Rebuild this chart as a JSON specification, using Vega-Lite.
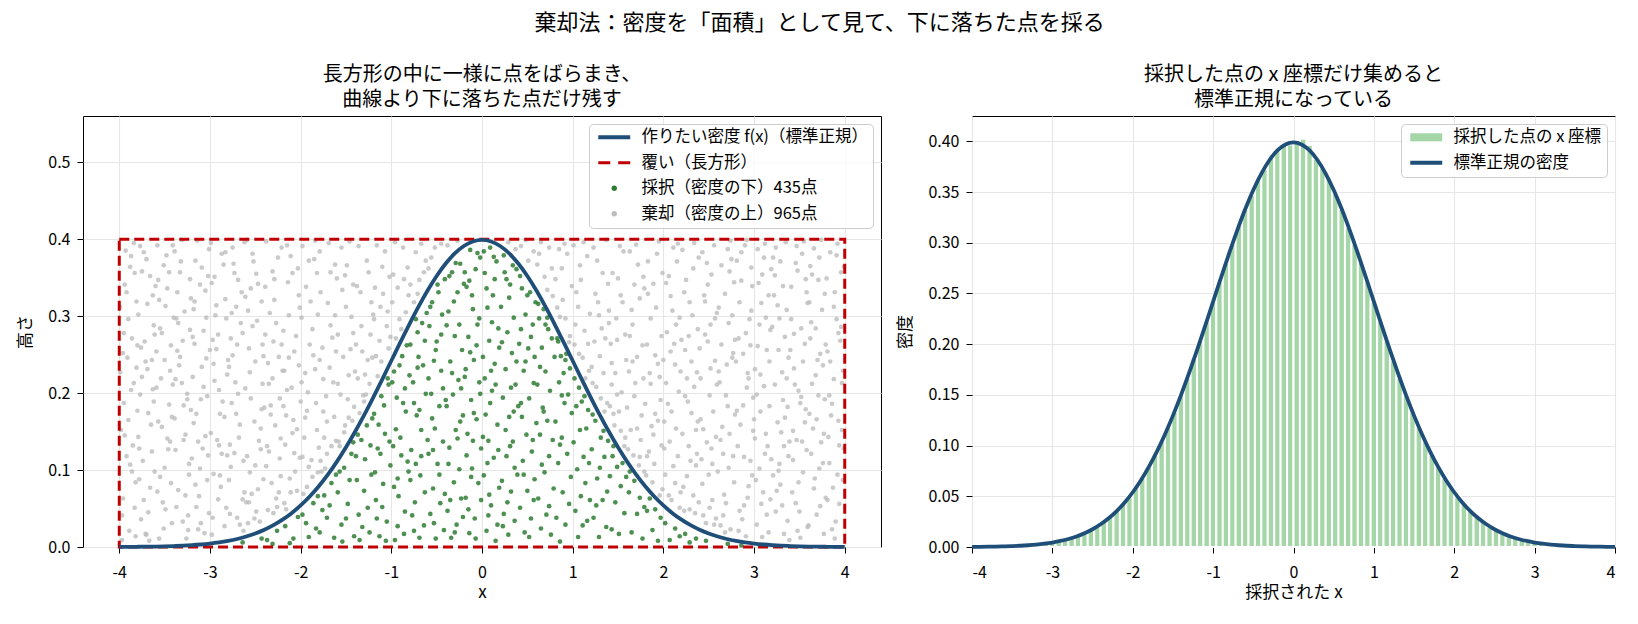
{
  "$schema": "https://vega.github.io/schema/vega-lite/v6.json",
  "background": "white",
  "padding": {"left": 16, "top": 11, "right": 10, "bottom": 10},
  "title": {
    "text": "棄却法：密度を「面積」として見て、下に落ちた点を採る",
    "fontSize": 22,
    "offset": 30,
    "anchor": "middle"
  },
  "config": {
    "font": "Noto Sans CJK JP",
    "view": {"stroke": "#000000", "strokeWidth": 1},
    "axis": {
      "labelFont": "Noto Sans CJK JP",
      "labelFontSize": 16,
      "labelColor": "#000000",
      "titleFont": "Noto Sans CJK JP",
      "titleFontSize": 17,
      "titleFontWeight": "normal",
      "titleColor": "#000000",
      "tickColor": "#000000",
      "tickSize": 6,
      "tickWidth": 1,
      "domain": false,
      "gridColor": "#e6e6e6",
      "gridWidth": 1.1
    },
    "axisX": {"labelPadding": 11, "titlePadding": 4},
    "axisY": {"labelPadding": 7, "titlePadding": 13},
    "title": {
      "font": "Noto Sans CJK JP",
      "fontWeight": "normal",
      "color": "#000000",
      "fontSize": 20,
      "lineHeight": 25,
      "offset": 6
    },
    "legend": {
      "orient": "top-right",
      "offset": 8,
      "title": null,
      "labelFont": "Noto Sans CJK JP",
      "labelFontSize": 16.5,
      "labelColor": "#000000",
      "labelLimit": 400,
      "symbolSize": 28,
      "symbolOffset": 12,
      "symbolStrokeWidth": 0,
      "symbolOpacity": 1,
      "labelOffset": 19,
      "rowPadding": 8.5,
      "padding": 5,
      "strokeColor": "#cccccc",
      "fillColor": "rgba(255,255,255,0.8)",
      "cornerRadius": 4
    }
  },
  "datasets": {
    "curve": [
      {"x":-4,"y":0.00013},{"x":-3.9,"y":0.0002},{"x":-3.8,"y":0.00029},{"x":-3.7,"y":0.00042},{"x":-3.6,"y":0.00061},{"x":-3.5,"y":0.00087},{"x":-3.4,"y":0.00123},{"x":-3.3,"y":0.00172},{"x":-3.2,"y":0.00238},{"x":-3.1,"y":0.00327},{"x":-3,"y":0.00443},{"x":-2.9,"y":0.00595},{"x":-2.8,"y":0.00792},{"x":-2.7,"y":0.01042},{"x":-2.6,"y":0.01358},{"x":-2.5,"y":0.01753},{"x":-2.4,"y":0.02239},{"x":-2.3,"y":0.02833},{"x":-2.2,"y":0.03547},{"x":-2.1,"y":0.04398},{"x":-2,"y":0.05399},{"x":-1.9,"y":0.06562},{"x":-1.8,"y":0.07895},{"x":-1.7,"y":0.09405},{"x":-1.6,"y":0.11092},{"x":-1.5,"y":0.12952},{"x":-1.4,"y":0.14973},{"x":-1.3,"y":0.17137},{"x":-1.2,"y":0.19419},{"x":-1.1,"y":0.21785},{"x":-1,"y":0.24197},{"x":-0.9,"y":0.26609},{"x":-0.8,"y":0.28969},{"x":-0.7,"y":0.31225},{"x":-0.6,"y":0.33322},{"x":-0.5,"y":0.35207},{"x":-0.4,"y":0.36827},{"x":-0.3,"y":0.38139},{"x":-0.2,"y":0.39104},{"x":-0.1,"y":0.39695},{"x":0,"y":0.39894},
      {"x":0.1,"y":0.39695},{"x":0.2,"y":0.39104},{"x":0.3,"y":0.38139},{"x":0.4,"y":0.36827},{"x":0.5,"y":0.35207},{"x":0.6,"y":0.33322},{"x":0.7,"y":0.31225},{"x":0.8,"y":0.28969},{"x":0.9,"y":0.26609},{"x":1,"y":0.24197},{"x":1.1,"y":0.21785},{"x":1.2,"y":0.19419},{"x":1.3,"y":0.17137},{"x":1.4,"y":0.14973},{"x":1.5,"y":0.12952},{"x":1.6,"y":0.11092},{"x":1.7,"y":0.09405},{"x":1.8,"y":0.07895},{"x":1.9,"y":0.06562},{"x":2,"y":0.05399},{"x":2.1,"y":0.04398},{"x":2.2,"y":0.03547},{"x":2.3,"y":0.02833},{"x":2.4,"y":0.02239},{"x":2.5,"y":0.01753},{"x":2.6,"y":0.01358},{"x":2.7,"y":0.01042},{"x":2.8,"y":0.00792},{"x":2.9,"y":0.00595},{"x":3,"y":0.00443},{"x":3.1,"y":0.00327},{"x":3.2,"y":0.00238},{"x":3.3,"y":0.00172},{"x":3.4,"y":0.00123},{"x":3.5,"y":0.00087},{"x":3.6,"y":0.00061},{"x":3.7,"y":0.00042},{"x":3.8,"y":0.00029},{"x":3.9,"y":0.0002},{"x":4,"y":0.00013}
    ],
    "box": [{"x": -4, "x2": 4, "y": 0, "y2": 0.4}],
    "hist": [
      {"x":-3.6,"x2":-3.52,"y":0.0007},{"x":-3.52,"x2":-3.44,"y":0.0009},{"x":-3.44,"x2":-3.36,"y":0.0012},{"x":-3.36,"x2":-3.28,"y":0.0016},{"x":-3.28,"x2":-3.2,"y":0.0021},{"x":-3.2,"x2":-3.12,"y":0.0027},{"x":-3.12,"x2":-3.04,"y":0.0035},{"x":-3.04,"x2":-2.96,"y":0.0044},{"x":-2.96,"x2":-2.88,"y":0.0056},{"x":-2.88,"x2":-2.8,"y":0.0071},{"x":-2.8,"x2":-2.72,"y":0.0089},{"x":-2.72,"x2":-2.64,"y":0.011},{"x":-2.64,"x2":-2.56,"y":0.0136},{"x":-2.56,"x2":-2.48,"y":0.0167},{"x":-2.48,"x2":-2.4,"y":0.0203},{"x":-2.4,"x2":-2.32,"y":0.0246},{"x":-2.32,"x2":-2.24,"y":0.0297},{"x":-2.24,"x2":-2.16,"y":0.0355},{"x":-2.16,"x2":-2.08,"y":0.0422},{"x":-2.08,"x2":-2,"y":0.0498},{"x":-2,"x2":-1.92,"y":0.0584},{"x":-1.92,"x2":-1.84,"y":0.0682},{"x":-1.84,"x2":-1.76,"y":0.079},{"x":-1.76,"x2":-1.68,"y":0.0909},{"x":-1.68,"x2":-1.6,"y":0.104},{"x":-1.6,"x2":-1.52,"y":0.1182},{"x":-1.52,"x2":-1.44,"y":0.1334},{"x":-1.44,"x2":-1.36,"y":0.1497},{"x":-1.36,"x2":-1.28,"y":0.1669},{"x":-1.28,"x2":-1.2,"y":0.186},{"x":-1.2,"x2":-1.12,"y":0.2036},{"x":-1.12,"x2":-1.04,"y":0.2227},{"x":-1.04,"x2":-0.96,"y":0.242},{"x":-0.96,"x2":-0.88,"y":0.2613},{"x":-0.88,"x2":-0.8,"y":0.2803},{"x":-0.8,"x2":-0.72,"y":0.2989},{"x":-0.72,"x2":-0.64,"y":0.3166},{"x":-0.64,"x2":-0.56,"y":0.3332},{"x":-0.56,"x2":-0.48,"y":0.347},{"x":-0.48,"x2":-0.4,"y":0.3621},{"x":-0.4,"x2":-0.32,"y":0.3725},{"x":-0.32,"x2":-0.24,"y":0.3836},{"x":-0.24,"x2":-0.16,"y":0.3925},{"x":-0.16,"x2":-0.08,"y":0.3961},{"x":-0.08,"x2":0,"y":0.397},
      {"x":0,"x2":0.08,"y":0.3986},{"x":0.08,"x2":0.16,"y":0.4025},{"x":0.16,"x2":0.24,"y":0.3965},{"x":0.24,"x2":0.32,"y":0.3825},{"x":0.32,"x2":0.4,"y":0.3739},{"x":0.4,"x2":0.48,"y":0.3635},{"x":0.48,"x2":0.56,"y":0.3485},{"x":0.56,"x2":0.64,"y":0.3332},{"x":0.64,"x2":0.72,"y":0.315},{"x":0.72,"x2":0.8,"y":0.2989},{"x":0.8,"x2":0.88,"y":0.2803},{"x":0.88,"x2":0.96,"y":0.2613},{"x":0.96,"x2":1.04,"y":0.242},{"x":1.04,"x2":1.12,"y":0.2227},{"x":1.12,"x2":1.2,"y":0.2036},{"x":1.2,"x2":1.28,"y":0.1838},{"x":1.28,"x2":1.36,"y":0.1669},{"x":1.36,"x2":1.44,"y":0.1497},{"x":1.44,"x2":1.52,"y":0.1334},{"x":1.52,"x2":1.6,"y":0.1182},{"x":1.6,"x2":1.68,"y":0.104},{"x":1.68,"x2":1.76,"y":0.0909},{"x":1.76,"x2":1.84,"y":0.079},{"x":1.84,"x2":1.92,"y":0.0682},{"x":1.92,"x2":2,"y":0.0584},{"x":2,"x2":2.08,"y":0.0498},{"x":2.08,"x2":2.16,"y":0.0422},{"x":2.16,"x2":2.24,"y":0.0355},{"x":2.24,"x2":2.32,"y":0.0297},{"x":2.32,"x2":2.4,"y":0.0246},{"x":2.4,"x2":2.48,"y":0.0203},{"x":2.48,"x2":2.56,"y":0.0167},{"x":2.56,"x2":2.64,"y":0.0136},{"x":2.64,"x2":2.72,"y":0.011},{"x":2.72,"x2":2.8,"y":0.0089},{"x":2.8,"x2":2.88,"y":0.0071},{"x":2.88,"x2":2.96,"y":0.0056},{"x":2.96,"x2":3.04,"y":0.0044},{"x":3.04,"x2":3.12,"y":0.0035},{"x":3.12,"x2":3.2,"y":0.0027},{"x":3.2,"x2":3.28,"y":0.0021},{"x":3.28,"x2":3.36,"y":0.0016},{"x":3.36,"x2":3.44,"y":0.0012},{"x":3.44,"x2":3.52,"y":0.0009},{"x":3.52,"x2":3.6,"y":0.0007}
    ],
    "rej": [
      {"x":-3.99,"y":0.312},{"x":-3.83,"y":0.051},{"x":-3.95,"y":0.187},{"x":-3.88,"y":0.364},{"x":-3.81,"y":0.233},{"x":-3.97,"y":0.009},{"x":-3.86,"y":0.271},{"x":-3.92,"y":0.118},{"x":-3.84,"y":0.395},{"x":-3.98,"y":0.152},{"x":-3.9,"y":0.296},{"x":-3.82,"y":0.084},{"x":-3.94,"y":0.341},{"x":-3.87,"y":0.204},{"x":-3.96,"y":0.063},{"x":-3.8,"y":0.177},{"x":-3.91,"y":0.246},{"x":-3.85,"y":0.132},{"x":-3.93,"y":0.385},{"x":-3.89,"y":0.021},{"x":-3.81,"y":0.319},{"x":-3.99,"y":0.227},{"x":-3.86,"y":0.098},{"x":-3.95,"y":0.278},{"x":-3.83,"y":0.356},{"x":-3.9,"y":0.165},{"x":-3.97,"y":0.041},{"x":-3.84,"y":0.213},{"x":-3.92,"y":0.331},{"x":-3.88,"y":0.107},{"x":-3.8,"y":0.262},{"x":-3.94,"y":0.145},{"x":-3.87,"y":0.378},{"x":-3.96,"y":0.252},{"x":-3.82,"y":0.014},
      {"x":-3.79,"y":0.143},{"x":-3.62,"y":0.288},{"x":-3.71,"y":0.017},{"x":-3.66,"y":0.352},{"x":-3.75,"y":0.221},{"x":-3.61,"y":0.098},{"x":-3.68,"y":0.174},{"x":-3.77,"y":0.391},{"x":-3.64,"y":0.243},{"x":-3.73,"y":0.061},{"x":-3.69,"y":0.316},{"x":-3.78,"y":0.128},{"x":-3.63,"y":0.205},{"x":-3.7,"y":0.374},{"x":-3.76,"y":0.036},{"x":-3.65,"y":0.159},{"x":-3.72,"y":0.267},{"x":-3.6,"y":0.339},{"x":-3.74,"y":0.112},{"x":-3.67,"y":0.008},{"x":-3.79,"y":0.302},{"x":-3.62,"y":0.189},{"x":-3.71,"y":0.241},{"x":-3.66,"y":0.077},{"x":-3.75,"y":0.358},{"x":-3.61,"y":0.276},{"x":-3.68,"y":0.045},{"x":-3.77,"y":0.198},{"x":-3.64,"y":0.124},{"x":-3.73,"y":0.383},{"x":-3.69,"y":0.231},{"x":-3.78,"y":0.088},{"x":-3.63,"y":0.327},{"x":-3.7,"y":0.016},{"x":-3.76,"y":0.259},
      {"x":-3.59,"y":0.207},{"x":-3.42,"y":0.031},{"x":-3.51,"y":0.366},{"x":-3.47,"y":0.141},{"x":-3.55,"y":0.284},{"x":-3.41,"y":0.392},{"x":-3.58,"y":0.072},{"x":-3.44,"y":0.229},{"x":-3.53,"y":0.156},{"x":-3.49,"y":0.313},{"x":-3.56,"y":0.011},{"x":-3.43,"y":0.262},{"x":-3.5,"y":0.103},{"x":-3.57,"y":0.347},{"x":-3.45,"y":0.185},{"x":-3.52,"y":0.058},{"x":-3.4,"y":0.298},{"x":-3.54,"y":0.219},{"x":-3.48,"y":0.379},{"x":-3.46,"y":0.127},{"x":-3.59,"y":0.254},{"x":-3.42,"y":0.169},{"x":-3.51,"y":0.024},{"x":-3.47,"y":0.336},{"x":-3.55,"y":0.091},{"x":-3.41,"y":0.211},{"x":-3.58,"y":0.392},{"x":-3.44,"y":0.137},{"x":-3.53,"y":0.278},{"x":-3.49,"y":0.049},{"x":-3.56,"y":0.321},{"x":-3.43,"y":0.083},{"x":-3.5,"y":0.243},{"x":-3.57,"y":0.163},{"x":-3.45,"y":0.357},
      {"x":-3.38,"y":0.126},{"x":-3.22,"y":0.348},{"x":-3.31,"y":0.213},{"x":-3.27,"y":0.067},{"x":-3.35,"y":0.291},{"x":-3.21,"y":0.178},{"x":-3.39,"y":0.384},{"x":-3.24,"y":0.022},{"x":-3.33,"y":0.247},{"x":-3.29,"y":0.139},{"x":-3.36,"y":0.331},{"x":-3.23,"y":0.094},{"x":-3.3,"y":0.268},{"x":-3.37,"y":0.052},{"x":-3.25,"y":0.199},{"x":-3.32,"y":0.371},{"x":-3.2,"y":0.115},{"x":-3.34,"y":0.236},{"x":-3.28,"y":0.306},{"x":-3.26,"y":0.011},{"x":-3.39,"y":0.167},{"x":-3.22,"y":0.282},{"x":-3.31,"y":0.399},{"x":-3.27,"y":0.146},{"x":-3.35,"y":0.074},{"x":-3.21,"y":0.323},{"x":-3.38,"y":0.218},{"x":-3.24,"y":0.041},{"x":-3.33,"y":0.357},{"x":-3.29,"y":0.184},{"x":-3.36,"y":0.255},{"x":-3.23,"y":0.108},{"x":-3.3,"y":0.033},{"x":-3.37,"y":0.297},{"x":-3.25,"y":0.192},
      {"x":-3.19,"y":0.273},{"x":-3.02,"y":0.119},{"x":-3.11,"y":0.341},{"x":-3.07,"y":0.208},{"x":-3.15,"y":0.052},{"x":-3.01,"y":0.387},{"x":-3.18,"y":0.161},{"x":-3.04,"y":0.298},{"x":-3.13,"y":0.023},{"x":-3.09,"y":0.234},{"x":-3.16,"y":0.372},{"x":-3.03,"y":0.087},{"x":-3.1,"y":0.192},{"x":-3.17,"y":0.319},{"x":-3.05,"y":0.144},{"x":-3.12,"y":0.066},{"x":-3,"y":0.256},{"x":-3.14,"y":0.398},{"x":-3.08,"y":0.128},{"x":-3.06,"y":0.018},{"x":-3.19,"y":0.221},{"x":-3.02,"y":0.352},{"x":-3.11,"y":0.102},{"x":-3.07,"y":0.281},{"x":-3.15,"y":0.173},{"x":-3.01,"y":0.044},{"x":-3.18,"y":0.309},{"x":-3.04,"y":0.245},{"x":-3.13,"y":0.137},{"x":-3.09,"y":0.363},{"x":-3.16,"y":0.081},{"x":-3.03,"y":0.196},{"x":-3.1,"y":0.031},{"x":-3.17,"y":0.264},{"x":-3.05,"y":0.333},
      {"x":-2.99,"y":0.148},{"x":-2.82,"y":0.297},{"x":-2.91,"y":0.062},{"x":-2.87,"y":0.381},{"x":-2.95,"y":0.216},{"x":-2.81,"y":0.119},{"x":-2.98,"y":0.343},{"x":-2.84,"y":0.027},{"x":-2.93,"y":0.257},{"x":-2.89,"y":0.173},{"x":-2.96,"y":0.095},{"x":-2.83,"y":0.322},{"x":-2.9,"y":0.204},{"x":-2.97,"y":0.038},{"x":-2.85,"y":0.367},{"x":-2.92,"y":0.139},{"x":-2.8,"y":0.243},{"x":-2.94,"y":0.301},{"x":-2.88,"y":0.078},{"x":-2.86,"y":0.189},{"x":-2.99,"y":0.395},{"x":-2.82,"y":0.051},{"x":-2.91,"y":0.276},{"x":-2.87,"y":0.121},{"x":-2.95,"y":0.351},{"x":-2.81,"y":0.224},{"x":-2.98,"y":0.016},{"x":-2.84,"y":0.169},{"x":-2.93,"y":0.314},{"x":-2.89,"y":0.093},{"x":-2.96,"y":0.238},{"x":-2.83,"y":0.383},{"x":-2.9,"y":0.132},{"x":-2.97,"y":0.269},
      {"x":-2.79,"y":0.234},{"x":-2.62,"y":0.071},{"x":-2.71,"y":0.312},{"x":-2.67,"y":0.159},{"x":-2.75,"y":0.389},{"x":-2.61,"y":0.206},{"x":-2.78,"y":0.043},{"x":-2.64,"y":0.278},{"x":-2.73,"y":0.122},{"x":-2.69,"y":0.347},{"x":-2.76,"y":0.187},{"x":-2.63,"y":0.021},{"x":-2.7,"y":0.263},{"x":-2.77,"y":0.104},{"x":-2.65,"y":0.331},{"x":-2.72,"y":0.214},{"x":-2.6,"y":0.058},{"x":-2.74,"y":0.368},{"x":-2.68,"y":0.142},{"x":-2.66,"y":0.291},{"x":-2.79,"y":0.087},{"x":-2.62,"y":0.396},{"x":-2.71,"y":0.173},{"x":-2.67,"y":0.029},{"x":-2.75,"y":0.249},{"x":-2.61,"y":0.325},{"x":-2.78,"y":0.133},{"x":-2.64,"y":0.062},{"x":-2.73,"y":0.356},{"x":-2.69,"y":0.199},{"x":-2.76,"y":0.304},{"x":-2.63,"y":0.112},{"x":-2.7,"y":0.038},{"x":-2.77,"y":0.271},
      {"x":-2.59,"y":0.118},{"x":-2.42,"y":0.263},{"x":-2.51,"y":0.037},{"x":-2.47,"y":0.342},{"x":-2.55,"y":0.193},{"x":-2.41,"y":0.088},{"x":-2.58,"y":0.307},{"x":-2.44,"y":0.154},{"x":-2.53,"y":0.381},{"x":-2.49,"y":0.046},{"x":-2.56,"y":0.227},{"x":-2.43,"y":0.319},{"x":-2.5,"y":0.106},{"x":-2.57,"y":0.258},{"x":-2.45,"y":0.033},{"x":-2.52,"y":0.371},{"x":-2.4,"y":0.181},{"x":-2.54,"y":0.069},{"x":-2.48,"y":0.294},{"x":-2.46,"y":0.138},{"x":-2.59,"y":0.399},{"x":-2.42,"y":0.212},{"x":-2.51,"y":0.163},{"x":-2.47,"y":0.075},{"x":-2.55,"y":0.336},{"x":-2.41,"y":0.248},{"x":-2.58,"y":0.031},{"x":-2.44,"y":0.127},{"x":-2.53,"y":0.287},{"x":-2.49,"y":0.355},{"x":-2.56,"y":0.097},{"x":-2.43,"y":0.179},{"x":-2.5,"y":0.241},{"x":-2.57,"y":0.058},
      {"x":-2.39,"y":0.276},{"x":-2.22,"y":0.141},{"x":-2.31,"y":0.358},{"x":-2.27,"y":0.063},{"x":-2.35,"y":0.212},{"x":-2.21,"y":0.389},{"x":-2.38,"y":0.105},{"x":-2.24,"y":0.247},{"x":-2.33,"y":0.172},{"x":-2.29,"y":0.321},{"x":-2.36,"y":0.048},{"x":-2.23,"y":0.193},{"x":-2.3,"y":0.267},{"x":-2.37,"y":0.131},{"x":-2.25,"y":0.376},{"x":-2.32,"y":0.083},{"x":-2.2,"y":0.229},{"x":-2.34,"y":0.304},{"x":-2.28,"y":0.158},{"x":-2.26,"y":0.052},{"x":-2.39,"y":0.338},{"x":-2.22,"y":0.092},{"x":-2.31,"y":0.219},{"x":-2.27,"y":0.291},{"x":-2.35,"y":0.124},{"x":-2.21,"y":0.263},{"x":-2.38,"y":0.397},{"x":-2.24,"y":0.071},{"x":-2.33,"y":0.184},{"x":-2.29,"y":0.348},{"x":-2.36,"y":0.239},{"x":-2.23,"y":0.115},{"x":-2.3,"y":0.044},
      {"x":-2.19,"y":0.183},{"x":-2.02,"y":0.327},{"x":-2.11,"y":0.071},{"x":-2.07,"y":0.254},{"x":-2.15,"y":0.392},{"x":-2.01,"y":0.116},{"x":-2.18,"y":0.229},{"x":-2.04,"y":0.073},{"x":-2.13,"y":0.301},{"x":-2.09,"y":0.148},{"x":-2.16,"y":0.049},{"x":-2.03,"y":0.362},{"x":-2.1,"y":0.207},{"x":-2.17,"y":0.133},{"x":-2.05,"y":0.274},{"x":-2.12,"y":0.089},{"x":-2,"y":0.189},{"x":-2.14,"y":0.344},{"x":-2.08,"y":0.165},{"x":-2.06,"y":0.098},{"x":-2.19,"y":0.281},{"x":-2.02,"y":0.236},{"x":-2.11,"y":0.378},{"x":-2.07,"y":0.122},{"x":-2.15,"y":0.204},{"x":-2.01,"y":0.311},{"x":-2.18,"y":0.057},{"x":-2.04,"y":0.153},{"x":-2.13,"y":0.246},{"x":-2.09,"y":0.356},{"x":-2.16,"y":0.171},
      {"x":-1.99,"y":0.214},{"x":-1.82,"y":0.356},{"x":-1.91,"y":0.104},{"x":-1.87,"y":0.283},{"x":-1.95,"y":0.168},{"x":-1.81,"y":0.097},{"x":-1.98,"y":0.391},{"x":-1.84,"y":0.231},{"x":-1.93,"y":0.078},{"x":-1.89,"y":0.319},{"x":-1.96,"y":0.142},{"x":-1.83,"y":0.187},{"x":-1.9,"y":0.263},{"x":-1.97,"y":0.069},{"x":-1.85,"y":0.374},{"x":-1.92,"y":0.201},{"x":-1.8,"y":0.129},{"x":-1.94,"y":0.338},{"x":-1.88,"y":0.113},{"x":-1.86,"y":0.249},{"x":-1.99,"y":0.298},{"x":-1.82,"y":0.152},{"x":-1.91,"y":0.372},{"x":-1.87,"y":0.091},{"x":-1.95,"y":0.226},{"x":-1.81,"y":0.302},{"x":-1.98,"y":0.117},{"x":-1.84,"y":0.398},{"x":-1.93,"y":0.177},
      {"x":-1.79,"y":0.243},{"x":-1.62,"y":0.367},{"x":-1.71,"y":0.121},{"x":-1.67,"y":0.288},{"x":-1.75,"y":0.176},{"x":-1.61,"y":0.138},{"x":-1.78,"y":0.331},{"x":-1.64,"y":0.214},{"x":-1.73,"y":0.102},{"x":-1.69,"y":0.395},{"x":-1.76,"y":0.259},{"x":-1.63,"y":0.169},{"x":-1.7,"y":0.317},{"x":-1.77,"y":0.098},{"x":-1.65,"y":0.272},{"x":-1.72,"y":0.196},{"x":-1.6,"y":0.349},{"x":-1.74,"y":0.142},{"x":-1.68,"y":0.233},{"x":-1.66,"y":0.131},{"x":-1.79,"y":0.384},{"x":-1.62,"y":0.301},{"x":-1.71,"y":0.163},{"x":-1.67,"y":0.357},{"x":-1.75,"y":0.218},{"x":-1.61,"y":0.254},{"x":-1.78,"y":0.112},
      {"x":-1.59,"y":0.276},{"x":-1.42,"y":0.341},{"x":-1.51,"y":0.158},{"x":-1.47,"y":0.223},{"x":-1.55,"y":0.389},{"x":-1.41,"y":0.182},{"x":-1.58,"y":0.137},{"x":-1.44,"y":0.299},{"x":-1.53,"y":0.247},{"x":-1.49,"y":0.366},{"x":-1.56,"y":0.198},{"x":-1.43,"y":0.164},{"x":-1.5,"y":0.312},{"x":-1.57,"y":0.131},{"x":-1.45,"y":0.257},{"x":-1.52,"y":0.149},{"x":-1.4,"y":0.228},{"x":-1.54,"y":0.334},{"x":-1.48,"y":0.192},{"x":-1.46,"y":0.397},{"x":-1.59,"y":0.212},{"x":-1.42,"y":0.278},{"x":-1.51,"y":0.353},{"x":-1.47,"y":0.168},
      {"x":-1.39,"y":0.263},{"x":-1.22,"y":0.318},{"x":-1.31,"y":0.197},{"x":-1.27,"y":0.372},{"x":-1.35,"y":0.174},{"x":-1.21,"y":0.246},{"x":-1.38,"y":0.339},{"x":-1.24,"y":0.212},{"x":-1.33,"y":0.287},{"x":-1.29,"y":0.224},{"x":-1.36,"y":0.391},{"x":-1.23,"y":0.276},{"x":-1.3,"y":0.189},{"x":-1.37,"y":0.219},{"x":-1.25,"y":0.357},{"x":-1.32,"y":0.254},{"x":-1.2,"y":0.302},{"x":-1.34,"y":0.331},{"x":-1.28,"y":0.198},{"x":-1.26,"y":0.243},
      {"x":-1.19,"y":0.296},{"x":-1.02,"y":0.351},{"x":-1.11,"y":0.241},{"x":-1.07,"y":0.384},{"x":-1.15,"y":0.222},{"x":-1.01,"y":0.273},{"x":-1.18,"y":0.337},{"x":-1.04,"y":0.306},{"x":-1.13,"y":0.268},{"x":-1.09,"y":0.329},{"x":-1.16,"y":0.392},{"x":-1.03,"y":0.258},{"x":-1.1,"y":0.364},{"x":-1.17,"y":0.248},{"x":-1.05,"y":0.287},{"x":-1.12,"y":0.312},
      {"x":-0.99,"y":0.318},{"x":-0.82,"y":0.363},{"x":-0.91,"y":0.296},{"x":-0.87,"y":0.389},{"x":-0.95,"y":0.271},{"x":-0.81,"y":0.327},{"x":-0.98,"y":0.354},{"x":-0.84,"y":0.305},{"x":-0.93,"y":0.337},{"x":-0.89,"y":0.283},{"x":-0.96,"y":0.396},{"x":-0.86,"y":0.348},
      {"x":-0.79,"y":0.341},{"x":-0.62,"y":0.372},{"x":-0.71,"y":0.329},{"x":-0.67,"y":0.394},{"x":-0.75,"y":0.318},{"x":-0.64,"y":0.357},{"x":-0.73,"y":0.383},{"x":-0.69,"y":0.347},
      {"x":-0.59,"y":0.362},{"x":-0.52,"y":0.389},{"x":-0.45,"y":0.394},{"x":-0.56,"y":0.376},
      {"x":-0.38,"y":0.392},{"x":-0.27,"y":0.398},
      {"x":0.29,"y":0.396},{"x":0.37,"y":0.387},
      {"x":0.43,"y":0.391},{"x":0.51,"y":0.372},{"x":0.57,"y":0.384},{"x":0.48,"y":0.399},
      {"x":0.61,"y":0.367},{"x":0.78,"y":0.326},{"x":0.69,"y":0.351},{"x":0.74,"y":0.389},{"x":0.65,"y":0.396},{"x":0.72,"y":0.334},{"x":0.77,"y":0.362},{"x":0.63,"y":0.381},
      {"x":0.83,"y":0.311},{"x":0.97,"y":0.274},{"x":0.88,"y":0.362},{"x":0.92,"y":0.297},{"x":0.85,"y":0.387},{"x":0.99,"y":0.339},{"x":0.81,"y":0.348},{"x":0.94,"y":0.381},{"x":0.89,"y":0.321},{"x":0.96,"y":0.266},{"x":0.86,"y":0.299},{"x":0.91,"y":0.394},
      {"x":1.02,"y":0.263},{"x":1.18,"y":0.229},{"x":1.09,"y":0.347},{"x":1.13,"y":0.281},{"x":1.06,"y":0.312},{"x":1.16,"y":0.378},{"x":1.01,"y":0.392},{"x":1.11,"y":0.246},{"x":1.19,"y":0.303},{"x":1.04,"y":0.331},{"x":1.14,"y":0.219},{"x":1.08,"y":0.366},{"x":1.17,"y":0.264},{"x":1.03,"y":0.289},{"x":1.12,"y":0.396},{"x":1.07,"y":0.251},
      {"x":1.21,"y":0.234},{"x":1.38,"y":0.187},{"x":1.29,"y":0.301},{"x":1.33,"y":0.356},{"x":1.26,"y":0.208},{"x":1.36,"y":0.271},{"x":1.23,"y":0.389},{"x":1.31,"y":0.193},{"x":1.39,"y":0.342},{"x":1.24,"y":0.267},{"x":1.34,"y":0.226},{"x":1.28,"y":0.318},{"x":1.37,"y":0.399},{"x":1.22,"y":0.213},{"x":1.32,"y":0.284},{"x":1.27,"y":0.372},{"x":1.35,"y":0.176},{"x":1.25,"y":0.329},{"x":1.3,"y":0.248},{"x":1.4,"y":0.291},
      {"x":1.41,"y":0.183},{"x":1.58,"y":0.142},{"x":1.49,"y":0.269},{"x":1.53,"y":0.327},{"x":1.46,"y":0.158},{"x":1.56,"y":0.384},{"x":1.43,"y":0.211},{"x":1.51,"y":0.176},{"x":1.59,"y":0.243},{"x":1.44,"y":0.356},{"x":1.54,"y":0.201},{"x":1.48,"y":0.297},{"x":1.57,"y":0.131},{"x":1.42,"y":0.264},{"x":1.52,"y":0.391},{"x":1.47,"y":0.226},{"x":1.55,"y":0.318},{"x":1.45,"y":0.173},{"x":1.5,"y":0.349},{"x":1.4,"y":0.307},{"x":1.58,"y":0.276},{"x":1.43,"y":0.239},{"x":1.53,"y":0.151},{"x":1.49,"y":0.198},
      {"x":1.61,"y":0.127},{"x":1.78,"y":0.351},{"x":1.69,"y":0.213},{"x":1.73,"y":0.106},{"x":1.66,"y":0.289},{"x":1.76,"y":0.171},{"x":1.63,"y":0.384},{"x":1.71,"y":0.247},{"x":1.79,"y":0.098},{"x":1.64,"y":0.152},{"x":1.74,"y":0.323},{"x":1.68,"y":0.196},{"x":1.77,"y":0.262},{"x":1.62,"y":0.228},{"x":1.72,"y":0.367},{"x":1.67,"y":0.119},{"x":1.75,"y":0.139},{"x":1.65,"y":0.308},{"x":1.7,"y":0.393},{"x":1.6,"y":0.181},{"x":1.78,"y":0.219},{"x":1.63,"y":0.274},{"x":1.71,"y":0.154},{"x":1.79,"y":0.336},{"x":1.66,"y":0.241},{"x":1.74,"y":0.117},{"x":1.68,"y":0.341},
      {"x":1.81,"y":0.093},{"x":1.98,"y":0.274},{"x":1.89,"y":0.146},{"x":1.93,"y":0.381},{"x":1.86,"y":0.212},{"x":1.96,"y":0.067},{"x":1.83,"y":0.329},{"x":1.91,"y":0.173},{"x":1.99,"y":0.356},{"x":1.84,"y":0.124},{"x":1.94,"y":0.238},{"x":1.88,"y":0.084},{"x":1.97,"y":0.191},{"x":1.82,"y":0.263},{"x":1.92,"y":0.311},{"x":1.87,"y":0.157},{"x":1.95,"y":0.397},{"x":1.85,"y":0.226},{"x":1.9,"y":0.108},{"x":1.8,"y":0.186},{"x":1.98,"y":0.132},{"x":1.83,"y":0.371},{"x":1.91,"y":0.249},{"x":1.99,"y":0.075},{"x":1.86,"y":0.297},{"x":1.94,"y":0.164},{"x":1.89,"y":0.342},{"x":1.96,"y":0.221},{"x":1.82,"y":0.118},
      {"x":2.01,"y":0.163},{"x":2.18,"y":0.298},{"x":2.09,"y":0.061},{"x":2.13,"y":0.237},{"x":2.06,"y":0.352},{"x":2.16,"y":0.118},{"x":2.03,"y":0.213},{"x":2.11,"y":0.389},{"x":2.19,"y":0.071},{"x":2.04,"y":0.279},{"x":2.14,"y":0.154},{"x":2.08,"y":0.326},{"x":2.17,"y":0.202},{"x":2.02,"y":0.094},{"x":2.12,"y":0.264},{"x":2.07,"y":0.137},{"x":2.15,"y":0.371},{"x":2.05,"y":0.186},{"x":2.1,"y":0.307},{"x":2,"y":0.243},{"x":2.18,"y":0.051},{"x":2.03,"y":0.343},{"x":2.11,"y":0.105},{"x":2.19,"y":0.228},{"x":2.06,"y":0.067},{"x":2.14,"y":0.289},{"x":2.09,"y":0.176},{"x":2.16,"y":0.394},{"x":2.01,"y":0.128},{"x":2.13,"y":0.083},{"x":2.08,"y":0.254},
      {"x":2.21,"y":0.147},{"x":2.38,"y":0.283},{"x":2.29,"y":0.049},{"x":2.33,"y":0.362},{"x":2.26,"y":0.219},{"x":2.36,"y":0.106},{"x":2.23,"y":0.331},{"x":2.31,"y":0.174},{"x":2.39,"y":0.058},{"x":2.24,"y":0.256},{"x":2.34,"y":0.395},{"x":2.28,"y":0.131},{"x":2.37,"y":0.227},{"x":2.22,"y":0.078},{"x":2.32,"y":0.301},{"x":2.27,"y":0.189},{"x":2.35,"y":0.044},{"x":2.25,"y":0.347},{"x":2.3,"y":0.112},{"x":2.2,"y":0.269},{"x":2.38,"y":0.163},{"x":2.23,"y":0.047},{"x":2.31,"y":0.241},{"x":2.39,"y":0.376},{"x":2.26,"y":0.092},{"x":2.34,"y":0.208},{"x":2.29,"y":0.318},{"x":2.36,"y":0.152},{"x":2.21,"y":0.386},{"x":2.33,"y":0.067},{"x":2.28,"y":0.274},{"x":2.37,"y":0.121},{"x":2.24,"y":0.196},
      {"x":2.41,"y":0.219},{"x":2.58,"y":0.037},{"x":2.49,"y":0.341},{"x":2.53,"y":0.128},{"x":2.46,"y":0.276},{"x":2.56,"y":0.392},{"x":2.43,"y":0.082},{"x":2.51,"y":0.197},{"x":2.59,"y":0.304},{"x":2.44,"y":0.153},{"x":2.54,"y":0.061},{"x":2.48,"y":0.369},{"x":2.57,"y":0.242},{"x":2.42,"y":0.114},{"x":2.52,"y":0.289},{"x":2.47,"y":0.031},{"x":2.55,"y":0.176},{"x":2.45,"y":0.327},{"x":2.5,"y":0.094},{"x":2.4,"y":0.258},{"x":2.58,"y":0.143},{"x":2.43,"y":0.383},{"x":2.51,"y":0.051},{"x":2.59,"y":0.211},{"x":2.46,"y":0.319},{"x":2.54,"y":0.108},{"x":2.49,"y":0.267},{"x":2.56,"y":0.029},{"x":2.41,"y":0.166},{"x":2.53,"y":0.354},{"x":2.48,"y":0.136},{"x":2.57,"y":0.297},{"x":2.44,"y":0.041},{"x":2.52,"y":0.232},
      {"x":2.61,"y":0.311},{"x":2.78,"y":0.084},{"x":2.69,"y":0.197},{"x":2.73,"y":0.358},{"x":2.66,"y":0.041},{"x":2.76,"y":0.246},{"x":2.63,"y":0.139},{"x":2.71,"y":0.387},{"x":2.79,"y":0.172},{"x":2.64,"y":0.263},{"x":2.74,"y":0.023},{"x":2.68,"y":0.329},{"x":2.77,"y":0.118},{"x":2.62,"y":0.214},{"x":2.72,"y":0.291},{"x":2.67,"y":0.068},{"x":2.75,"y":0.374},{"x":2.65,"y":0.156},{"x":2.7,"y":0.237},{"x":2.6,"y":0.098},{"x":2.78,"y":0.344},{"x":2.63,"y":0.028},{"x":2.71,"y":0.183},{"x":2.79,"y":0.269},{"x":2.66,"y":0.121},{"x":2.74,"y":0.398},{"x":2.69,"y":0.057},{"x":2.76,"y":0.301},{"x":2.61,"y":0.228},{"x":2.73,"y":0.147},{"x":2.68,"y":0.019},{"x":2.77,"y":0.252},{"x":2.64,"y":0.366},{"x":2.72,"y":0.103},
      {"x":2.81,"y":0.177},{"x":2.98,"y":0.339},{"x":2.89,"y":0.054},{"x":2.93,"y":0.226},{"x":2.86,"y":0.383},{"x":2.96,"y":0.112},{"x":2.83,"y":0.271},{"x":2.91,"y":0.014},{"x":2.99,"y":0.194},{"x":2.84,"y":0.318},{"x":2.94,"y":0.079},{"x":2.88,"y":0.251},{"x":2.97,"y":0.363},{"x":2.82,"y":0.131},{"x":2.92,"y":0.207},{"x":2.87,"y":0.036},{"x":2.95,"y":0.296},{"x":2.85,"y":0.159},{"x":2.9,"y":0.392},{"x":2.8,"y":0.241},{"x":2.98,"y":0.093},{"x":2.83,"y":0.021},{"x":2.91,"y":0.278},{"x":2.99,"y":0.151},{"x":2.86,"y":0.346},{"x":2.94,"y":0.219},{"x":2.89,"y":0.117},{"x":2.96,"y":0.262},{"x":2.81,"y":0.372},{"x":2.93,"y":0.064},{"x":2.88,"y":0.184},{"x":2.97,"y":0.307},{"x":2.84,"y":0.047},{"x":2.92,"y":0.399},
      {"x":3.01,"y":0.231},{"x":3.18,"y":0.062},{"x":3.09,"y":0.354},{"x":3.13,"y":0.147},{"x":3.06,"y":0.289},{"x":3.16,"y":0.019},{"x":3.03,"y":0.198},{"x":3.11,"y":0.376},{"x":3.19,"y":0.114},{"x":3.04,"y":0.261},{"x":3.14,"y":0.042},{"x":3.08,"y":0.317},{"x":3.17,"y":0.183},{"x":3.02,"y":0.087},{"x":3.12,"y":0.394},{"x":3.07,"y":0.224},{"x":3.15,"y":0.131},{"x":3.05,"y":0.343},{"x":3.1,"y":0.071},{"x":3,"y":0.166},{"x":3.18,"y":0.282},{"x":3.03,"y":0.029},{"x":3.11,"y":0.209},{"x":3.19,"y":0.361},{"x":3.06,"y":0.102},{"x":3.14,"y":0.256},{"x":3.09,"y":0.013},{"x":3.16,"y":0.327},{"x":3.01,"y":0.141},{"x":3.13,"y":0.298},{"x":3.08,"y":0.056},{"x":3.17,"y":0.241},{"x":3.04,"y":0.387},{"x":3.12,"y":0.121},{"x":3.07,"y":0.176},
      {"x":3.21,"y":0.093},{"x":3.38,"y":0.246},{"x":3.29,"y":0.371},{"x":3.33,"y":0.017},{"x":3.26,"y":0.162},{"x":3.36,"y":0.308},{"x":3.23,"y":0.211},{"x":3.31,"y":0.054},{"x":3.39,"y":0.137},{"x":3.24,"y":0.389},{"x":3.34,"y":0.273},{"x":3.28,"y":0.108},{"x":3.37,"y":0.034},{"x":3.22,"y":0.327},{"x":3.32,"y":0.191},{"x":3.27,"y":0.256},{"x":3.35,"y":0.396},{"x":3.25,"y":0.073},{"x":3.3,"y":0.149},{"x":3.2,"y":0.286},{"x":3.38,"y":0.118},{"x":3.23,"y":0.353},{"x":3.31,"y":0.227},{"x":3.39,"y":0.009},{"x":3.26,"y":0.314},{"x":3.34,"y":0.168},{"x":3.29,"y":0.081},{"x":3.36,"y":0.219},{"x":3.21,"y":0.376},{"x":3.33,"y":0.131},{"x":3.28,"y":0.297},{"x":3.37,"y":0.182},{"x":3.24,"y":0.046},{"x":3.32,"y":0.339},{"x":3.27,"y":0.099},
      {"x":3.41,"y":0.338},{"x":3.58,"y":0.126},{"x":3.49,"y":0.203},{"x":3.53,"y":0.381},{"x":3.46,"y":0.057},{"x":3.56,"y":0.264},{"x":3.43,"y":0.151},{"x":3.51,"y":0.012},{"x":3.59,"y":0.317},{"x":3.44,"y":0.232},{"x":3.54,"y":0.097},{"x":3.48,"y":0.359},{"x":3.57,"y":0.179},{"x":3.42,"y":0.071},{"x":3.52,"y":0.284},{"x":3.47,"y":0.139},{"x":3.55,"y":0.397},{"x":3.45,"y":0.211},{"x":3.5,"y":0.046},{"x":3.4,"y":0.256},{"x":3.58,"y":0.331},{"x":3.43,"y":0.113},{"x":3.51,"y":0.187},{"x":3.59,"y":0.026},{"x":3.46,"y":0.369},{"x":3.54,"y":0.241},{"x":3.49,"y":0.084},{"x":3.56,"y":0.162},{"x":3.41,"y":0.296},{"x":3.53,"y":0.137},{"x":3.48,"y":0.021},{"x":3.57,"y":0.348},{"x":3.44,"y":0.277},{"x":3.52,"y":0.195},{"x":3.47,"y":0.391},
      {"x":3.61,"y":0.173},{"x":3.78,"y":0.329},{"x":3.69,"y":0.042},{"x":3.73,"y":0.251},{"x":3.66,"y":0.388},{"x":3.76,"y":0.109},{"x":3.63,"y":0.292},{"x":3.71,"y":0.197},{"x":3.79,"y":0.064},{"x":3.64,"y":0.354},{"x":3.74,"y":0.136},{"x":3.68,"y":0.223},{"x":3.77,"y":0.017},{"x":3.62,"y":0.271},{"x":3.72,"y":0.376},{"x":3.67,"y":0.089},{"x":3.75,"y":0.308},{"x":3.65,"y":0.154},{"x":3.7,"y":0.243},{"x":3.6,"y":0.028},{"x":3.78,"y":0.192},{"x":3.63,"y":0.121},{"x":3.71,"y":0.347},{"x":3.79,"y":0.263},{"x":3.66,"y":0.076},{"x":3.74,"y":0.399},{"x":3.69,"y":0.166},{"x":3.76,"y":0.236},{"x":3.61,"y":0.318},{"x":3.73,"y":0.053},{"x":3.68,"y":0.284},{"x":3.77,"y":0.147},{"x":3.64,"y":0.212},{"x":3.72,"y":0.102},{"x":3.62,"y":0.365},
      {"x":3.81,"y":0.254},{"x":3.98,"y":0.087},{"x":3.89,"y":0.331},{"x":3.93,"y":0.164},{"x":3.86,"y":0.023},{"x":3.96,"y":0.286},{"x":3.83,"y":0.197},{"x":3.91,"y":0.379},{"x":3.99,"y":0.128},{"x":3.84,"y":0.241},{"x":3.94,"y":0.056},{"x":3.88,"y":0.312},{"x":3.97,"y":0.213},{"x":3.82,"y":0.143},{"x":3.92,"y":0.394},{"x":3.87,"y":0.077},{"x":3.95,"y":0.268},{"x":3.85,"y":0.171},{"x":3.9,"y":0.033},{"x":3.8,"y":0.349},{"x":3.98,"y":0.229},{"x":3.83,"y":0.109},{"x":3.91,"y":0.296},{"x":3.99,"y":0.364},{"x":3.86,"y":0.186},{"x":3.94,"y":0.132},{"x":3.89,"y":0.011},{"x":3.96,"y":0.357},{"x":3.81,"y":0.061},{"x":3.93,"y":0.278},{"x":3.88,"y":0.218},{"x":3.97,"y":0.152},{"x":3.84,"y":0.383},{"x":3.92,"y":0.094}
    ],
    "acc": [
      {"x":-2.64,"y":0.006},{"x":-2.43,"y":0.011},
      {"x":-2.37,"y":0.009},{"x":-2.26,"y":0.021},{"x":-2.31,"y":0.004},
      {"x":-2.17,"y":0.027},{"x":-2.08,"y":0.011},{"x":-2.03,"y":0.039},{"x":-2.12,"y":0.005},
      {"x":-1.98,"y":0.042},{"x":-1.91,"y":0.013},{"x":-1.86,"y":0.057},{"x":-1.83,"y":0.024},{"x":-1.94,"y":0.031},{"x":-1.81,"y":0.066},
      {"x":-1.79,"y":0.019},{"x":-1.74,"y":0.067},{"x":-1.71,"y":0.038},{"x":-1.66,"y":0.083},{"x":-1.63,"y":0.012},{"x":-1.68,"y":0.054},{"x":-1.76,"y":0.048},{"x":-1.61,"y":0.094},
      {"x":-1.59,"y":0.071},{"x":-1.55,"y":0.029},{"x":-1.52,"y":0.103},{"x":-1.48,"y":0.056},{"x":-1.44,"y":0.121},{"x":-1.41,"y":0.014},{"x":-1.57,"y":0.098},{"x":-1.46,"y":0.087},{"x":-1.5,"y":0.037},{"x":-1.42,"y":0.136},{"x":-1.54,"y":0.007},
      {"x":-1.39,"y":0.118},{"x":-1.36,"y":0.042},{"x":-1.33,"y":0.139},{"x":-1.3,"y":0.073},{"x":-1.27,"y":0.158},{"x":-1.24,"y":0.019},{"x":-1.21,"y":0.167},{"x":-1.38,"y":0.087},{"x":-1.35,"y":0.009},{"x":-1.29,"y":0.114},{"x":-1.26,"y":0.051},{"x":-1.23,"y":0.132},{"x":-1.32,"y":0.026},{"x":-1.37,"y":0.146},{"x":-1.22,"y":0.094},
      {"x":-1.19,"y":0.173},{"x":-1.17,"y":0.061},{"x":-1.15,"y":0.128},{"x":-1.13,"y":0.014},{"x":-1.11,"y":0.196},{"x":-1.09,"y":0.082},{"x":-1.07,"y":0.147},{"x":-1.05,"y":0.033},{"x":-1.03,"y":0.211},{"x":-1.01,"y":0.106},{"x":-1.18,"y":0.097},{"x":-1.16,"y":0.037},{"x":-1.14,"y":0.159},{"x":-1.12,"y":0.121},{"x":-1.1,"y":0.052},{"x":-1.08,"y":0.184},{"x":-1.06,"y":0.008},{"x":-1.04,"y":0.219},{"x":-1.02,"y":0.137},
      {"x":-0.99,"y":0.214},{"x":-0.97,"y":0.078},{"x":-0.95,"y":0.153},{"x":-0.93,"y":0.027},{"x":-0.91,"y":0.236},{"x":-0.89,"y":0.119},{"x":-0.87,"y":0.187},{"x":-0.85,"y":0.046},{"x":-0.83,"y":0.262},{"x":-0.81,"y":0.098},{"x":-0.98,"y":0.131},{"x":-0.96,"y":0.009},{"x":-0.94,"y":0.194},{"x":-0.92,"y":0.066},{"x":-0.9,"y":0.142},{"x":-0.88,"y":0.248},{"x":-0.86,"y":0.017},{"x":-0.84,"y":0.176},{"x":-0.82,"y":0.111},{"x":-0.8,"y":0.223},{"x":-0.97,"y":0.228},{"x":-0.93,"y":0.089},{"x":-0.85,"y":0.206},
      {"x":-0.79,"y":0.263},{"x":-0.77,"y":0.041},{"x":-0.75,"y":0.187},{"x":-0.73,"y":0.108},{"x":-0.71,"y":0.279},{"x":-0.69,"y":0.012},{"x":-0.67,"y":0.152},{"x":-0.65,"y":0.236},{"x":-0.63,"y":0.071},{"x":-0.61,"y":0.304},{"x":-0.78,"y":0.126},{"x":-0.76,"y":0.214},{"x":-0.74,"y":0.058},{"x":-0.72,"y":0.171},{"x":-0.7,"y":0.247},{"x":-0.68,"y":0.093},{"x":-0.66,"y":0.291},{"x":-0.64,"y":0.028},{"x":-0.62,"y":0.199},{"x":-0.6,"y":0.139},{"x":-0.79,"y":0.087},{"x":-0.75,"y":0.021},{"x":-0.71,"y":0.233},{"x":-0.67,"y":0.118},{"x":-0.63,"y":0.268},{"x":-0.69,"y":0.178},{"x":-0.73,"y":0.296},
      {"x":-0.59,"y":0.121},{"x":-0.58,"y":0.287},{"x":-0.57,"y":0.043},{"x":-0.56,"y":0.199},{"x":-0.55,"y":0.318},{"x":-0.54,"y":0.076},{"x":-0.53,"y":0.242},{"x":-0.52,"y":0.154},{"x":-0.51,"y":0.011},{"x":-0.5,"y":0.267},{"x":-0.49,"y":0.108},{"x":-0.48,"y":0.331},{"x":-0.47,"y":0.183},{"x":-0.46,"y":0.057},{"x":-0.45,"y":0.229},{"x":-0.44,"y":0.302},{"x":-0.43,"y":0.137},{"x":-0.42,"y":0.022},{"x":-0.41,"y":0.348},{"x":-0.4,"y":0.191},{"x":-0.59,"y":0.219},{"x":-0.57,"y":0.312},{"x":-0.55,"y":0.167},{"x":-0.53,"y":0.031},{"x":-0.51,"y":0.256},{"x":-0.49,"y":0.341},{"x":-0.47,"y":0.094},{"x":-0.45,"y":0.276},{"x":-0.43,"y":0.206},{"x":-0.41,"y":0.069},{"x":-0.54,"y":0.126},
      {"x":-0.39,"y":0.183},{"x":-0.38,"y":0.047},{"x":-0.37,"y":0.306},{"x":-0.36,"y":0.129},{"x":-0.35,"y":0.241},{"x":-0.34,"y":0.012},{"x":-0.33,"y":0.357},{"x":-0.32,"y":0.198},{"x":-0.31,"y":0.084},{"x":-0.3,"y":0.274},{"x":-0.29,"y":0.152},{"x":-0.28,"y":0.029},{"x":-0.27,"y":0.331},{"x":-0.26,"y":0.217},{"x":-0.25,"y":0.101},{"x":-0.24,"y":0.368},{"x":-0.23,"y":0.063},{"x":-0.22,"y":0.256},{"x":-0.21,"y":0.171},{"x":-0.2,"y":0.342},{"x":-0.39,"y":0.288},{"x":-0.37,"y":0.108},{"x":-0.35,"y":0.061},{"x":-0.33,"y":0.226},{"x":-0.31,"y":0.319},{"x":-0.29,"y":0.369},{"x":-0.27,"y":0.141},{"x":-0.25,"y":0.289},{"x":-0.23,"y":0.206},{"x":-0.21,"y":0.039},{"x":-0.36,"y":0.352},{"x":-0.3,"y":0.019},{"x":-0.24,"y":0.163},
      {"x":-0.19,"y":0.221},{"x":-0.18,"y":0.064},{"x":-0.17,"y":0.338},{"x":-0.16,"y":0.147},{"x":-0.15,"y":0.273},{"x":-0.14,"y":0.018},{"x":-0.13,"y":0.386},{"x":-0.12,"y":0.191},{"x":-0.11,"y":0.102},{"x":-0.1,"y":0.309},{"x":-0.09,"y":0.243},{"x":-0.08,"y":0.037},{"x":-0.07,"y":0.361},{"x":-0.06,"y":0.166},{"x":-0.05,"y":0.289},{"x":-0.04,"y":0.083},{"x":-0.03,"y":0.214},{"x":-0.02,"y":0.376},{"x":-0.01,"y":0.128},{"x":-0.19,"y":0.357},{"x":-0.17,"y":0.119},{"x":-0.15,"y":0.049},{"x":-0.13,"y":0.253},{"x":-0.11,"y":0.327},{"x":-0.09,"y":0.174},{"x":-0.07,"y":0.011},{"x":-0.05,"y":0.382},{"x":-0.03,"y":0.297},{"x":-0.01,"y":0.061},{"x":-0.18,"y":0.231},{"x":-0.14,"y":0.346},{"x":-0.1,"y":0.138},{"x":-0.06,"y":0.262},{"x":-0.02,"y":0.199},{"x":-0.12,"y":0.091},
      {"x":0.01,"y":0.247},{"x":0.02,"y":0.093},{"x":0.03,"y":0.356},{"x":0.04,"y":0.172},{"x":0.05,"y":0.021},{"x":0.06,"y":0.311},{"x":0.07,"y":0.138},{"x":0.08,"y":0.268},{"x":0.09,"y":0.389},{"x":0.1,"y":0.054},{"x":0.11,"y":0.203},{"x":0.12,"y":0.327},{"x":0.13,"y":0.116},{"x":0.14,"y":0.238},{"x":0.15,"y":0.008},{"x":0.16,"y":0.371},{"x":0.17,"y":0.159},{"x":0.18,"y":0.284},{"x":0.19,"y":0.077},{"x":0.01,"y":0.143},{"x":0.03,"y":0.219},{"x":0.05,"y":0.336},{"x":0.07,"y":0.041},{"x":0.09,"y":0.187},{"x":0.11,"y":0.292},{"x":0.13,"y":0.377},{"x":0.15,"y":0.211},{"x":0.17,"y":0.029},{"x":0.19,"y":0.259},{"x":0.02,"y":0.384},{"x":0.06,"y":0.109},{"x":0.1,"y":0.229},{"x":0.14,"y":0.348},{"x":0.18,"y":0.126},{"x":0.08,"y":0.068},
      {"x":0.21,"y":0.312},{"x":0.22,"y":0.086},{"x":0.23,"y":0.194},{"x":0.24,"y":0.043},{"x":0.25,"y":0.357},{"x":0.26,"y":0.231},{"x":0.27,"y":0.118},{"x":0.28,"y":0.279},{"x":0.29,"y":0.016},{"x":0.3,"y":0.169},{"x":0.31,"y":0.341},{"x":0.32,"y":0.072},{"x":0.33,"y":0.252},{"x":0.34,"y":0.137},{"x":0.35,"y":0.298},{"x":0.36,"y":0.034},{"x":0.37,"y":0.211},{"x":0.38,"y":0.361},{"x":0.39,"y":0.094},{"x":0.4,"y":0.183},{"x":0.22,"y":0.266},{"x":0.24,"y":0.379},{"x":0.26,"y":0.152},{"x":0.28,"y":0.058},{"x":0.3,"y":0.324},{"x":0.32,"y":0.207},{"x":0.34,"y":0.366},{"x":0.36,"y":0.103},{"x":0.38,"y":0.241},{"x":0.23,"y":0.027},{"x":0.27,"y":0.348},{"x":0.31,"y":0.131},{"x":0.35,"y":0.176},
      {"x":0.41,"y":0.264},{"x":0.42,"y":0.051},{"x":0.43,"y":0.187},{"x":0.44,"y":0.336},{"x":0.45,"y":0.112},{"x":0.46,"y":0.229},{"x":0.47,"y":0.019},{"x":0.48,"y":0.302},{"x":0.49,"y":0.146},{"x":0.5,"y":0.073},{"x":0.51,"y":0.258},{"x":0.52,"y":0.193},{"x":0.53,"y":0.331},{"x":0.54,"y":0.037},{"x":0.55,"y":0.124},{"x":0.56,"y":0.289},{"x":0.57,"y":0.213},{"x":0.58,"y":0.088},{"x":0.59,"y":0.318},{"x":0.6,"y":0.161},{"x":0.42,"y":0.352},{"x":0.44,"y":0.169},{"x":0.46,"y":0.094},{"x":0.48,"y":0.241},{"x":0.5,"y":0.327},{"x":0.52,"y":0.013},{"x":0.54,"y":0.273},{"x":0.56,"y":0.139},{"x":0.58,"y":0.247},{"x":0.43,"y":0.283},{"x":0.57,"y":0.061},
      {"x":0.61,"y":0.211},{"x":0.62,"y":0.063},{"x":0.63,"y":0.297},{"x":0.64,"y":0.146},{"x":0.65,"y":0.024},{"x":0.66,"y":0.259},{"x":0.67,"y":0.181},{"x":0.68,"y":0.309},{"x":0.69,"y":0.097},{"x":0.7,"y":0.228},{"x":0.71,"y":0.042},{"x":0.72,"y":0.164},{"x":0.73,"y":0.283},{"x":0.74,"y":0.118},{"x":0.75,"y":0.203},{"x":0.76,"y":0.016},{"x":0.77,"y":0.271},{"x":0.78,"y":0.139},{"x":0.79,"y":0.076},{"x":0.8,"y":0.247},{"x":0.62,"y":0.316},{"x":0.66,"y":0.107},{"x":0.7,"y":0.289},{"x":0.74,"y":0.053},{"x":0.64,"y":0.234},{"x":0.68,"y":0.176},{"x":0.72,"y":0.298},
      {"x":0.81,"y":0.163},{"x":0.82,"y":0.038},{"x":0.83,"y":0.271},{"x":0.84,"y":0.109},{"x":0.85,"y":0.214},{"x":0.86,"y":0.007},{"x":0.87,"y":0.248},{"x":0.88,"y":0.142},{"x":0.89,"y":0.071},{"x":0.9,"y":0.226},{"x":0.91,"y":0.187},{"x":0.92,"y":0.029},{"x":0.93,"y":0.251},{"x":0.94,"y":0.121},{"x":0.95,"y":0.198},{"x":0.96,"y":0.056},{"x":0.97,"y":0.232},{"x":0.98,"y":0.091},{"x":0.99,"y":0.174},{"x":0.84,"y":0.267},{"x":0.88,"y":0.197},{"x":0.92,"y":0.243},{"x":0.86,"y":0.133},
      {"x":1.01,"y":0.136},{"x":1.02,"y":0.219},{"x":1.03,"y":0.047},{"x":1.04,"y":0.183},{"x":1.05,"y":0.101},{"x":1.06,"y":0.013},{"x":1.07,"y":0.207},{"x":1.08,"y":0.152},{"x":1.09,"y":0.066},{"x":1.1,"y":0.189},{"x":1.11,"y":0.028},{"x":1.12,"y":0.117},{"x":1.13,"y":0.196},{"x":1.14,"y":0.083},{"x":1.15,"y":0.154},{"x":1.16,"y":0.034},{"x":1.17,"y":0.178},{"x":1.18,"y":0.109},{"x":1.19,"y":0.061},
      {"x":1.21,"y":0.127},{"x":1.23,"y":0.038},{"x":1.25,"y":0.164},{"x":1.27,"y":0.089},{"x":1.29,"y":0.013},{"x":1.31,"y":0.142},{"x":1.33,"y":0.061},{"x":1.35,"y":0.117},{"x":1.37,"y":0.026},{"x":1.39,"y":0.138},{"x":1.22,"y":0.172},{"x":1.26,"y":0.054},{"x":1.3,"y":0.103},{"x":1.34,"y":0.151},{"x":1.38,"y":0.072},
      {"x":1.41,"y":0.092},{"x":1.43,"y":0.023},{"x":1.45,"y":0.131},{"x":1.47,"y":0.058},{"x":1.49,"y":0.104},{"x":1.51,"y":0.017},{"x":1.53,"y":0.079},{"x":1.55,"y":0.109},{"x":1.57,"y":0.044},{"x":1.59,"y":0.091},{"x":1.44,"y":0.118},
      {"x":1.62,"y":0.071},{"x":1.65,"y":0.019},{"x":1.68,"y":0.086},{"x":1.71,"y":0.043},{"x":1.74,"y":0.064},{"x":1.77,"y":0.011},{"x":1.79,"y":0.052},{"x":1.63,"y":0.098},
      {"x":1.82,"y":0.047},{"x":1.85,"y":0.063},{"x":1.88,"y":0.022},{"x":1.91,"y":0.049},{"x":1.94,"y":0.008},{"x":1.97,"y":0.038},
      {"x":2.02,"y":0.031},{"x":2.07,"y":0.009},{"x":2.13,"y":0.024},{"x":2.18,"y":0.014},
      {"x":2.24,"y":0.017},{"x":2.29,"y":0.006},{"x":2.36,"y":0.011},
      {"x":2.47,"y":0.008},{"x":2.71,"y":0.004},{"x":2.86,"y":0.002}
    ]
  },
  "spacing": 14,
  "resolve": {"scale": {"color": "independent", "shape": "independent"}},
  "hconcat": [
    {
      "width": 798,
      "height": 431,
      "title": {"text": ["長方形の中に一様に点をばらまき、", "曲線より下に落ちた点だけ残す"]},
      "encoding": {
        "x": {
          "field": "x",
          "type": "quantitative",
          "scale": {"domain": [-4.4, 4.4], "nice": false, "zero": false},
          "axis": {"values": [-4, -3, -2, -1, 0, 1, 2, 3, 4], "labelExpr": "datum.value + ''", "title": "x"}
        },
        "y": {
          "field": "y",
          "type": "quantitative",
          "scale": {"domain": [0, 0.56], "nice": false, "zero": false},
          "axis": {"values": [0, 0.1, 0.2, 0.3, 0.4, 0.5], "format": ".1f", "title": "高さ"}
        }
      },
      "layer": [
        {
          "data": {"name": "rej"},
          "mark": {"type": "point", "filled": true, "shape": "circle", "size": 22, "opacity": 0.8},
          "encoding": {
            "color": {
              "datum": "棄却（密度の上）965点",
              "type": "nominal",
              "scale": {
                "domain": ["作りたい密度 f(x)（標準正規）", "覆い（長方形）", "採択（密度の下）435点", "棄却（密度の上）965点"],
                "range": ["#1f4e79", "#c00000", "#2e7d32", "#bdbdbd"]
              }
            }
          }
        },
        {
          "data": {"name": "acc"},
          "mark": {"type": "point", "filled": true, "shape": "circle", "size": 22, "opacity": 0.85},
          "encoding": {
            "color": {
              "datum": "採択（密度の下）435点",
              "type": "nominal",
              "scale": {
                "domain": ["作りたい密度 f(x)（標準正規）", "覆い（長方形）", "採択（密度の下）435点", "棄却（密度の上）965点"],
                "range": ["#1f4e79", "#c00000", "#2e7d32", "#bdbdbd"]
              }
            }
          }
        },
        {
          "data": {"name": "box"},
          "mark": {"type": "rect", "filled": false, "strokeWidth": 3, "strokeDash": [10, 5]},
          "encoding": {
            "x2": {"field": "x2"},
            "y2": {"field": "y2"},
            "color": {
              "datum": "覆い（長方形）",
              "type": "nominal",
              "scale": {
                "domain": ["作りたい密度 f(x)（標準正規）", "覆い（長方形）", "採択（密度の下）435点", "棄却（密度の上）965点"],
                "range": ["#1f4e79", "#c00000", "#2e7d32", "#bdbdbd"]
              }
            }
          }
        },
        {
          "data": {"name": "curve"},
          "mark": {"type": "line", "strokeWidth": 3.8, "interpolate": "monotone"},
          "encoding": {
            "color": {
              "datum": "作りたい密度 f(x)（標準正規）",
              "type": "nominal",
              "scale": {
                "domain": ["作りたい密度 f(x)（標準正規）", "覆い（長方形）", "採択（密度の下）435点", "棄却（密度の上）965点"],
                "range": ["#1f4e79", "#c00000", "#2e7d32", "#bdbdbd"]
              }
            }
          }
        },
        {
          "data": {"values": []},
          "mark": {"type": "point", "filled": true},
          "encoding": {
            "color": {
              "datum": "作りたい密度 f(x)（標準正規）",
              "type": "nominal",
              "scale": {
                "domain": ["作りたい密度 f(x)（標準正規）", "覆い（長方形）", "採択（密度の下）435点", "棄却（密度の上）965点"],
                "range": ["#1f4e79", "#c00000", "#2e7d32", "#bdbdbd"]
              }
            },
            "shape": {
              "datum": "作りたい密度 f(x)（標準正規）",
              "type": "nominal",
              "scale": {
                "domain": ["作りたい密度 f(x)（標準正規）", "覆い（長方形）", "採択（密度の下）435点", "棄却（密度の上）965点"],
                "range": ["M-6.04,-0.72H6.04V0.72H-6.04Z", "M-6.04,-0.57H-1.5V0.57H-6.04Z M1.5,-0.57H6.04V0.57H1.5Z", "circle", "circle"]
              }
            }
          }
        }
      ]
    },
    {
      "width": 643,
      "height": 431,
      "title": {"text": ["採択した点の x 座標だけ集めると", "標準正規になっている"]},
      "encoding": {
        "x": {
          "field": "x",
          "type": "quantitative",
          "scale": {"domain": [-4, 4], "nice": false, "zero": false},
          "axis": {"values": [-4, -3, -2, -1, 0, 1, 2, 3, 4], "labelExpr": "datum.value + ''", "title": "採択された x"}
        },
        "y": {
          "field": "y",
          "type": "quantitative",
          "scale": {"domain": [0, 0.425], "nice": false, "zero": false},
          "axis": {"values": [0, 0.05, 0.1, 0.15, 0.2, 0.25, 0.3, 0.35, 0.4], "format": ".2f", "title": "密度"}
        }
      },
      "layer": [
        {
          "data": {"name": "hist"},
          "mark": {"type": "rect", "stroke": "white", "strokeWidth": 2},
          "encoding": {
            "x2": {"field": "x2"},
            "y2": {"datum": 0},
            "color": {
              "datum": "採択した点の x 座標",
              "type": "nominal",
              "scale": {"domain": ["採択した点の x 座標", "標準正規の密度"], "range": ["#a5d6a7", "#1f4e79"]}
            }
          }
        },
        {
          "data": {"name": "curve"},
          "mark": {"type": "line", "strokeWidth": 3.8, "interpolate": "monotone"},
          "encoding": {
            "color": {
              "datum": "標準正規の密度",
              "type": "nominal",
              "scale": {"domain": ["採択した点の x 座標", "標準正規の密度"], "range": ["#a5d6a7", "#1f4e79"]}
            }
          }
        },
        {
          "data": {"values": []},
          "mark": {"type": "point", "filled": true},
          "encoding": {
            "color": {
              "datum": "標準正規の密度",
              "type": "nominal",
              "scale": {"domain": ["採択した点の x 座標", "標準正規の密度"], "range": ["#a5d6a7", "#1f4e79"]}
            },
            "shape": {
              "datum": "標準正規の密度",
              "type": "nominal",
              "scale": {
                "domain": ["採択した点の x 座標", "標準正規の密度"],
                "range": ["M-6.04,-1.51H6.04V1.51H-6.04Z", "M-6.04,-0.72H6.04V0.72H-6.04Z"]
              }
            }
          }
        }
      ]
    }
  ]
}
